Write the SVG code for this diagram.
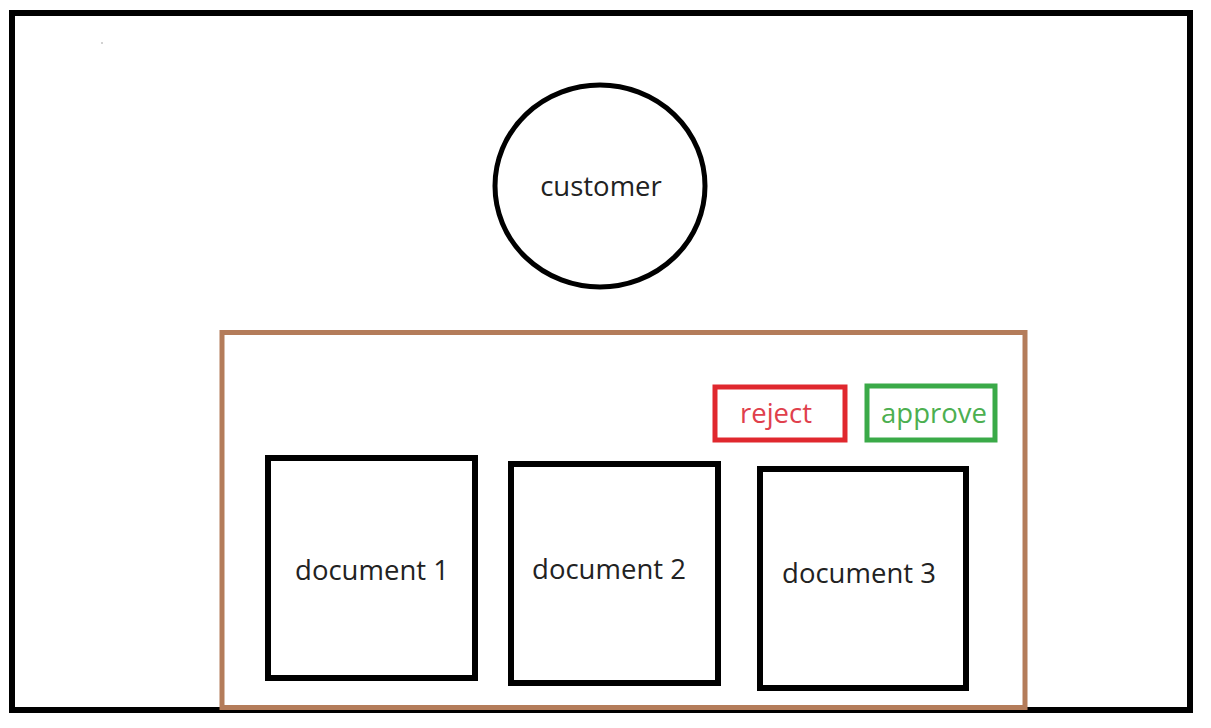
<svg xmlns="http://www.w3.org/2000/svg" width="1211" height="728" viewBox="0 0 1211 728">
<style>
  .lbl { font-family: "Open Sans", "Noto Sans", sans-serif; font-size: 27.5px; fill: #222; text-anchor: middle; }
  .box { fill: none; stroke: #000; stroke-width: 6; }
</style>
<rect width="1211" height="728" fill="#fff"/>
<g id="frame">
  <rect x="12" y="13" width="1178" height="697" fill="none" stroke="#000" stroke-width="6"/>
  <circle cx="102" cy="43" r="0.8" fill="#999"/>
</g>
<g id="customer">
  <ellipse cx="600" cy="186" rx="105" ry="101" fill="none" stroke="#000" stroke-width="5"/>
  <text class="lbl" x="601" y="196">customer</text>
</g>
<g id="panel">
  <rect x="222" y="332.5" width="803" height="375" fill="none" stroke="#b47c5a" stroke-width="5"/>
</g>
<g id="reject">
  <rect x="715" y="387" width="130" height="53" fill="none" stroke="#e0282e" stroke-width="5"/>
  <text class="lbl" x="776" y="423" style="fill:#e0404c">reject</text>
</g>
<g id="approve">
  <rect x="867" y="386" width="128" height="54" fill="none" stroke="#3aaa48" stroke-width="5"/>
  <text class="lbl" x="934" y="423" style="fill:#4caf50">approve</text>
</g>
<g id="document1">
  <rect class="box" x="268" y="458" width="207" height="220"/>
  <text class="lbl" x="372" y="580">document 1</text>
</g>
<g id="document2">
  <rect class="box" x="511" y="464" width="207" height="219"/>
  <text class="lbl" x="609" y="579">document 2</text>
</g>
<g id="document3">
  <rect class="box" x="760" y="469" width="206" height="219"/>
  <text class="lbl" x="859" y="583">document 3</text>
</g>
<g id="connectors"></g>
</svg>
